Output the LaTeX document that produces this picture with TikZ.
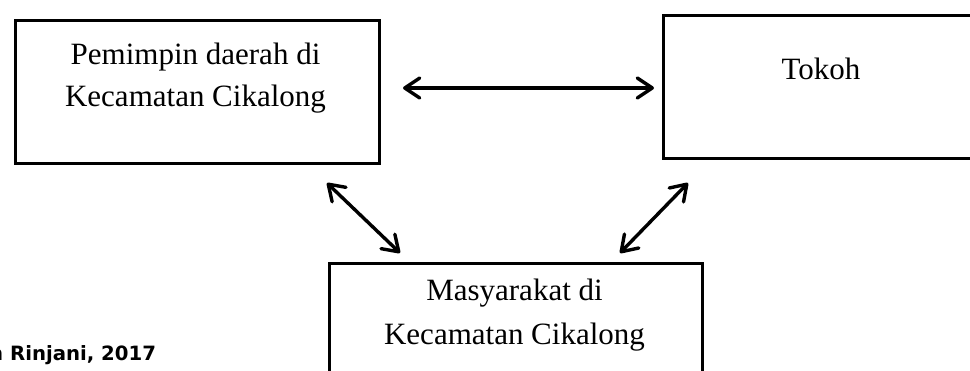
\documentclass[tikz,border=0pt]{standalone}
\usepackage{fontspec}
\setmainfont{Liberation Serif}
\newfontfamily\capfont{DejaVu Sans}
\usetikzlibrary{arrows.meta}
\tikzset{
  box/.style={draw=black, line width=2.6pt, inner sep=0pt, anchor=north west},
  boxtext/.style={inner sep=0pt, align=center, anchor=base, font=\fontsize{31}{42}\selectfont},
  arr/.style={line width=3.4pt, {Straight Barb[length=15pt,width=20pt,round]}-{Straight Barb[length=15pt,width=20pt,round]}}
}
\begin{document}
\begin{tikzpicture}[x=1pt,y=-1pt]
\useasboundingbox (0,0) rectangle (970,371);
\clip (0,0) rectangle (970,371);
\fill[white] (0,0) rectangle (970,371);
% boxes
\node[box, minimum width=364pt, minimum height=143pt] (L) at (14,19) {};
\node[box, minimum width=320pt, minimum height=143pt] (R) at (662,14) {};
\node[box, minimum width=373pt, minimum height=140pt] (B) at (328,262) {};
% texts (base anchor = last line baseline)
\node[boxtext] (Lt) at (195.5,107) {Pemimpin daerah di\\Kecamatan Cikalong};
\node[boxtext] (Rt) at (821,80) {Tokoh};
\node[boxtext, font=\fontsize{31}{44}\selectfont] (Bt) at (514.5,345) {Masyarakat di\\Kecamatan Cikalong};
% arrow end points
\coordinate (h1) at (403,88);
\coordinate (h2) at (654,88);
\coordinate (d1) at (327,183);
\coordinate (d2) at (400,253);
\coordinate (e1) at (688,183);
\coordinate (e2) at (620,253);
\draw[arr] (h1) -- (h2);
\draw[arr] (d1) -- (d2);
\draw[arr] (e1) -- (e2);
% caption (cut at the left edge as in the reference)
\node[inner sep=0pt, anchor=base west, font=\capfont\bfseries\fontsize{19.7}{24}\selectfont] (cap) at (-11,361) {n Rinjani, 2017};
\end{tikzpicture}
\end{document}
